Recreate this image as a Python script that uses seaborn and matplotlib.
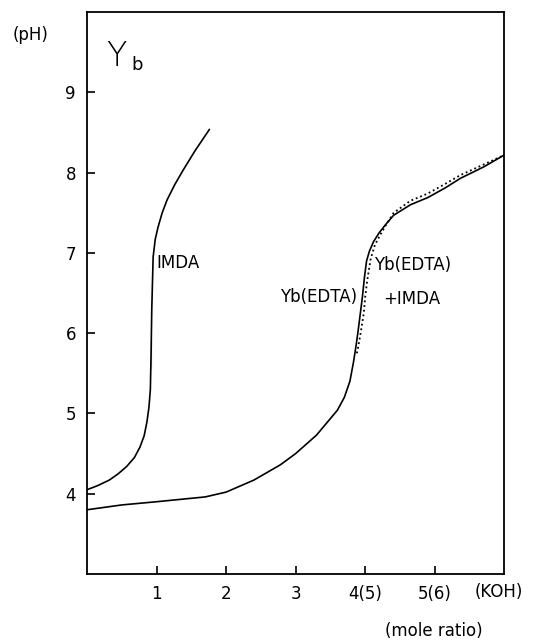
import pandas as pd
import seaborn as sns
import matplotlib
matplotlib.use("Agg")
import matplotlib.pyplot as plt

# courbes (rapport molaire KOH / pH)
imda_x = [0.0, 0.15, 0.32, 0.45, 0.57, 0.68, 0.76, 0.82, 0.86, 0.89, 0.91, 0.92, 0.92, 0.93, 0.95, 0.98, 1.02, 1.08, 1.15, 1.26, 1.38, 1.55, 1.76]
imda_ph = [4.05, 4.1, 4.17, 4.25, 4.34, 4.45, 4.58, 4.72, 4.89, 5.08, 5.3, 5.55, 5.9, 6.29, 6.95, 7.17, 7.32, 7.5, 7.66, 7.85, 8.03, 8.27, 8.54]

edta_x = [0.0, 0.5, 1.0, 1.7, 2.0, 2.4, 2.78, 3.0, 3.3, 3.6, 3.7, 3.78, 3.83, 3.87, 3.9, 3.96, 3.99, 4.02, 4.06, 4.12, 4.2, 4.3, 4.41, 4.65, 4.9, 5.15, 5.37, 5.7, 6.0]
edta_ph = [3.8, 3.86, 3.9, 3.96, 4.02, 4.17, 4.36, 4.5, 4.73, 5.04, 5.2, 5.4, 5.63, 5.85, 6.04, 6.45, 6.7, 6.9, 7.02, 7.14, 7.25, 7.36, 7.47, 7.6, 7.69, 7.81, 7.93, 8.07, 8.22]

mix_x = [3.88, 3.9, 3.94, 3.98, 4.0, 4.03, 4.08, 4.14, 4.22, 4.3, 4.41, 4.65, 4.9, 5.15, 5.37, 5.7, 6.0]
mix_ph = [5.75, 5.83, 6.03, 6.25, 6.45, 6.66, 6.93, 7.1, 7.23, 7.35, 7.5, 7.65, 7.74, 7.86, 7.97, 8.1, 8.22]

x_ticks = [1, 2, 3, 4, 5]
x_labels = ["1", "2", "3", "4(5)", "5(6)"]
y_ticks = [4, 5, 6, 7, 8, 9]

sns.set_style("white")
plt.rcParams["font.family"] = ["DejaVu Sans"]
plt.rcParams["text.color"] = "black"
plt.rcParams["xtick.color"] = "black"
plt.rcParams["ytick.color"] = "black"

fig = plt.figure(figsize=(5.41, 6.42), dpi=100)
ax = fig.add_axes([0.161, 0.106, 0.771, 0.875])

df_imda = pd.DataFrame({"x": imda_x, "ph": imda_ph})
df_edta = pd.DataFrame({"x": edta_x, "ph": edta_ph})
df_mix = pd.DataFrame({"x": mix_x, "ph": mix_ph})

sns.lineplot(data=df_imda, x="x", y="ph", sort=False, color="black", lw=1.2, ax=ax)
sns.lineplot(data=df_edta, x="x", y="ph", sort=False, color="black", lw=1.2, ax=ax)
sns.lineplot(data=df_mix, x="x", y="ph", sort=False, color="black", lw=1.3,
             linestyle=(0, (1, 1.6)), ax=ax)

ax.set_xlim(0, 6)
ax.set_ylim(3, 10)
ax.set_xticks(x_ticks)
ax.set_xticklabels(x_labels)
ax.set_yticks(y_ticks)
ax.set_xlabel("")
ax.set_ylabel("")
ax.tick_params(direction="in", length=6, width=1.2, labelsize=12, colors="black",
               bottom=True, left=True, top=False, right=False, pad=8)
for s in ax.spines.values():
    s.set_color("black")
    s.set_linewidth(1.3)

# textes
fs = 12
ax.text(0.99, 6.88, "IMDA", fontsize=fs, ha="left", va="center")
ax.text(3.89, 6.45, "Yb(EDTA)", fontsize=fs, ha="right", va="center")
ax.text(4.13, 6.85, "Yb(EDTA)", fontsize=fs, ha="left", va="center")
ax.text(4.67, 6.42, "+IMDA", fontsize=fs, ha="center", va="center")
fig.text(31 / 541, 1 - 35 / 642, "(pH)", fontsize=fs, ha="center", va="center")
fig.text(106 / 541, 1 - 57 / 642, "Y", fontsize=24, fontweight="light", ha="left", va="center")
fig.text(131 / 541, 1 - 65 / 642, "b", fontsize=13, ha="left", va="center")
fig.text(499 / 541, 1 - 592 / 642, "(KOH)", fontsize=fs, ha="center", va="center")
fig.text(434 / 541, 1 - 631 / 642, "(mole ratio)", fontsize=fs, ha="center", va="center")

fig.savefig("out.png", dpi=100)
